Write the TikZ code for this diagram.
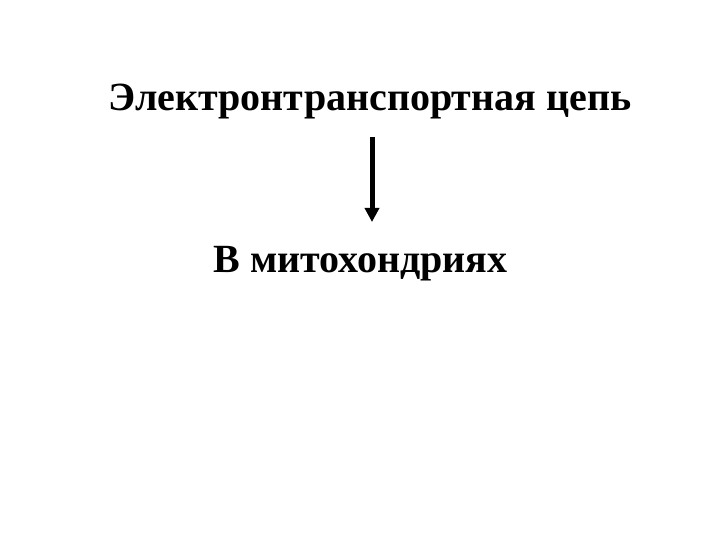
\documentclass[tikz,border=0pt]{standalone}
\usepackage{fontspec}
\setmainfont{Liberation Serif}
\usetikzlibrary{arrows.meta}
\begin{document}
\begin{tikzpicture}[x=1pt,y=-1pt,
  lbl/.style={font=\fontsize{40}{48}\selectfont\bfseries, anchor=base, inner sep=0pt},
  arr/.style={line width=5pt, -{Triangle[width=14pt,length=14pt]}}]
\useasboundingbox (0,0) rectangle (720,540);
\node[lbl] (top) at (370,111) {Электронтранспортная цепь};
\node[lbl] (bot) at (360.5,272) {В митохондриях};
\coordinate (a1) at (372,137);
\coordinate (a2) at (372,222);
\draw[arr] (a1) -- (a2);
\end{tikzpicture}
\end{document}
